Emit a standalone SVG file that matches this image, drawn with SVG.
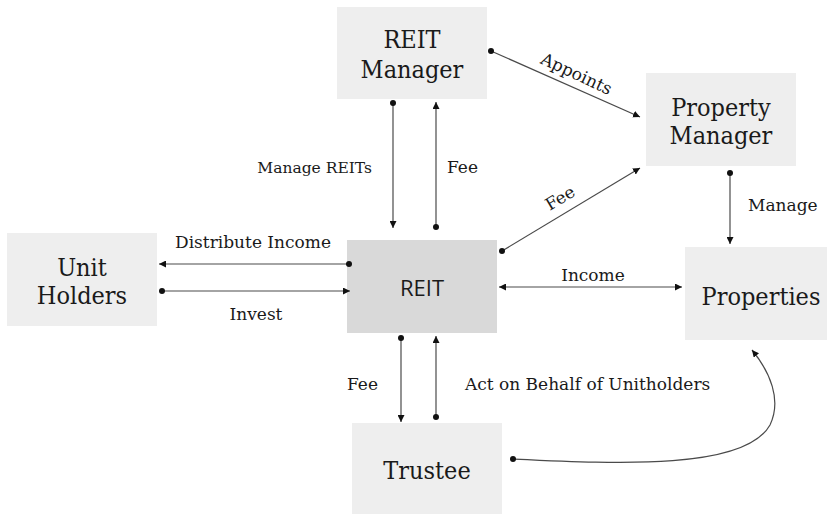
<svg xmlns="http://www.w3.org/2000/svg" width="830" height="514" viewBox="0 0 830 514">
  <style>
    .box { fill: #eeeeee; }
    .box-main { fill: #d9d9d9; }
    .title { font-family: "DejaVu Serif Condensed", "DejaVu Serif", "Liberation Serif", serif; font-stretch: condensed; font-size: 25px; fill: #1a1a1a; text-anchor: middle; }
    .main { font-family: "Open Sans", "Liberation Sans", sans-serif; font-size: 22px; fill: #1a1a1a; text-anchor: middle; }
    .lbl { font-family: "DejaVu Serif", "Liberation Serif", serif; font-size: 17px; fill: #1a1a1a; }
    .sm { font-size: 15.5px; }
    .conn { stroke: #4a4a4a; stroke-width: 1.2; fill: none; }
    .dot { fill: #111; }
  </style>
  <defs>
    <marker id="arrow" viewBox="0 0 10 10" refX="10" refY="5" markerWidth="7" markerHeight="7" markerUnits="userSpaceOnUse" orient="auto-start-reverse">
      <path d="M0,0 L10,5 L0,10 z" fill="#111"/>
    </marker>
  </defs>

  <!-- nodes -->
  <g id="reit-manager">
    <rect class="box" x="337" y="7" width="150" height="92"/>
    <text class="title" x="412" y="48">REIT</text>
    <text class="title" x="412" y="78">Manager</text>
  </g>
  <g id="property-manager">
    <rect class="box" x="646" y="73" width="150" height="93"/>
    <text class="title" x="721" y="116">Property</text>
    <text class="title" x="721" y="144">Manager</text>
  </g>
  <g id="unit-holders">
    <rect class="box" x="7" y="233" width="150" height="93"/>
    <text class="title" x="82" y="276">Unit</text>
    <text class="title" x="82" y="304">Holders</text>
  </g>
  <g id="reit">
    <rect class="box-main" x="347" y="240" width="150" height="93"/>
    <text class="main" x="422" y="296">REIT</text>
  </g>
  <g id="properties">
    <rect class="box" x="685" y="247" width="142" height="93"/>
    <text class="title" x="761" y="305">Properties</text>
  </g>
  <g id="trustee">
    <rect class="box" x="352" y="423" width="150" height="91"/>
    <text class="title" x="427" y="479">Trustee</text>
  </g>

  <!-- connectors -->
  <g id="connectors">
    <!-- REIT Manager -> Property Manager -->
    <path class="conn" d="M491,51 L640,117" marker-end="url(#arrow)"/>
    <circle class="dot" cx="491" cy="51" r="3"/>
    <text class="lbl" transform="translate(574,79) rotate(25)" text-anchor="middle">Appoints</text>

    <!-- REIT Manager -> REIT -->
    <path class="conn" d="M393,103 L393,228" marker-end="url(#arrow)"/>
    <circle class="dot" cx="393" cy="103" r="3"/>
    <text class="lbl sm" x="372" y="173" text-anchor="end">Manage REITs</text>

    <!-- REIT -> REIT Manager -->
    <path class="conn" d="M436,227 L436,102" marker-end="url(#arrow)"/>
    <circle class="dot" cx="436" cy="227" r="3"/>
    <text class="lbl" x="447" y="173">Fee</text>

    <!-- REIT -> Property Manager -->
    <path class="conn" d="M502,251 L640,168" marker-end="url(#arrow)"/>
    <circle class="dot" cx="502" cy="251" r="3"/>
    <text class="lbl" transform="translate(563,203) rotate(-31)" text-anchor="middle">Fee</text>

    <!-- Property Manager -> Properties -->
    <path class="conn" d="M730,173 L730,244" marker-end="url(#arrow)"/>
    <circle class="dot" cx="730" cy="173" r="3"/>
    <text class="lbl" x="748" y="211">Manage</text>

    <!-- REIT <-> Properties -->
    <path class="conn" d="M499,287 L682,287" marker-start="url(#arrow)" marker-end="url(#arrow)"/>
    <text class="lbl" x="593" y="281" text-anchor="middle">Income</text>

    <!-- REIT -> Unit Holders -->
    <path class="conn" d="M349,264 L159,264" marker-end="url(#arrow)"/>
    <circle class="dot" cx="349" cy="264" r="3"/>
    <text class="lbl" x="253" y="248" text-anchor="middle">Distribute Income</text>

    <!-- Unit Holders -> REIT -->
    <path class="conn" d="M162,291 L350,291" marker-end="url(#arrow)"/>
    <circle class="dot" cx="162" cy="291" r="3"/>
    <text class="lbl" x="256" y="320" text-anchor="middle">Invest</text>

    <!-- REIT -> Trustee -->
    <path class="conn" d="M401,338 L401,422" marker-end="url(#arrow)"/>
    <circle class="dot" cx="401" cy="338" r="3"/>
    <text class="lbl" x="347" y="390">Fee</text>

    <!-- Trustee -> REIT -->
    <path class="conn" d="M436,417 L436,336" marker-end="url(#arrow)"/>
    <circle class="dot" cx="436" cy="417" r="3"/>
    <text class="lbl" x="465" y="390">Act on Behalf of Unitholders</text>

    <!-- Trustee -> Properties -->
    <path class="conn" d="M513,459 C620,464 745,470 770,425 C782,400 770,372 752,350" marker-end="url(#arrow)"/>
    <circle class="dot" cx="513" cy="459" r="3"/>
  </g>
</svg>
